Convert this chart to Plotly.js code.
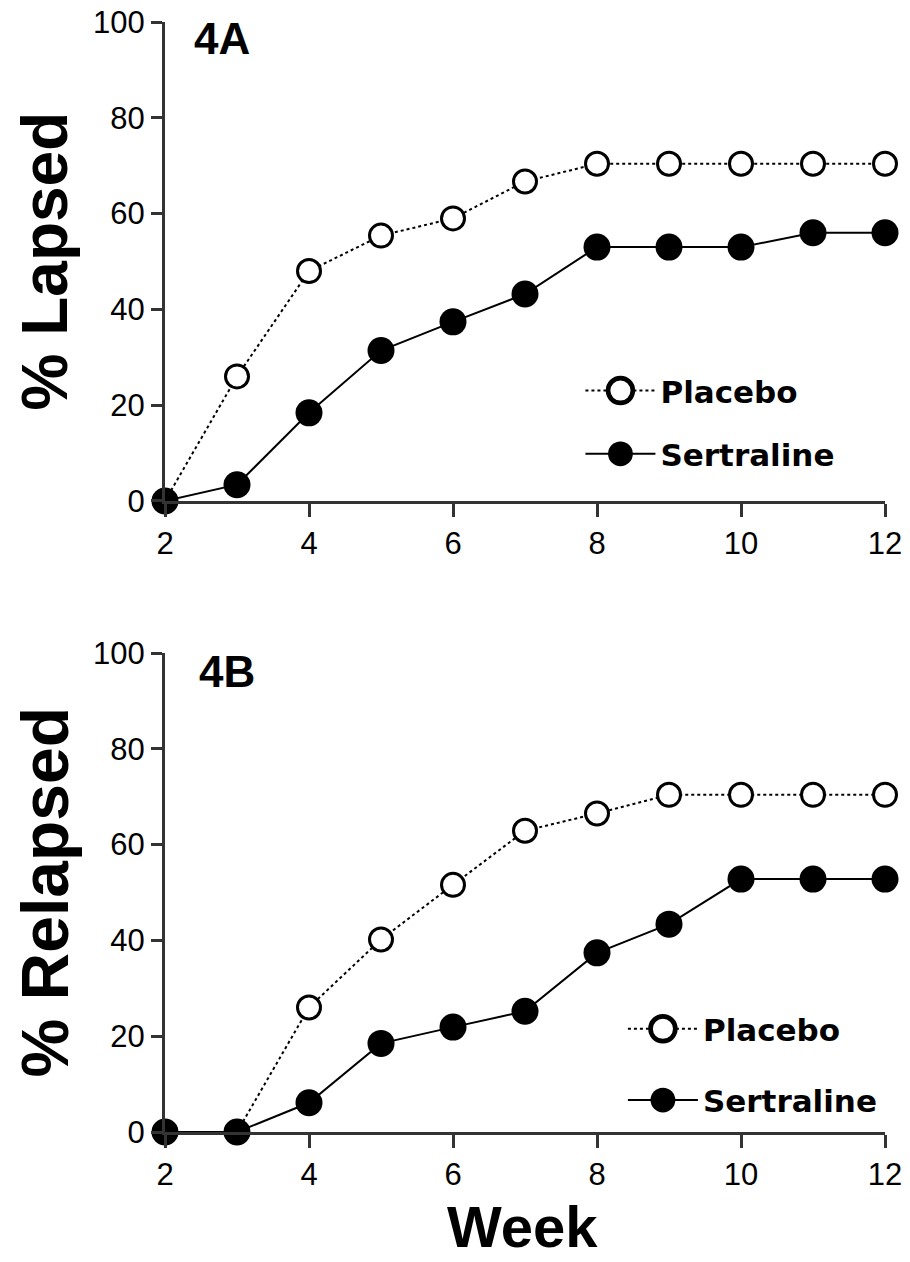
<!DOCTYPE html>
<html>
<head>
<meta charset="utf-8">
<script src="https://cdn.plot.ly/plotly-3.0.1.min.js"></script>
<style>
  html, body { margin: 0; padding: 0; background: #fff; }
  #chart { width: 910px; height: 1262px; }
</style>
</head>
<body>
<div id="chart"></div>
<script>
// ---- Data ----
const weeks = [2, 3, 4, 5, 6, 7, 8, 9, 10, 11, 12];
const xTickVals = [2, 4, 6, 8, 10, 12];
const yTickVals = [0, 20, 40, 60, 80, 100];

// Panel 4A: % Lapsed
const lapsedPlacebo    = [0, 26.0, 48.0, 55.4, 59.0, 66.7, 70.4, 70.4, 70.4, 70.4, 70.4];
const lapsedSertraline = [0, 3.4, 18.4, 31.4, 37.4, 43.2, 53.0, 53.0, 53.0, 56.0, 56.0];

// Panel 4B: % Relapsed
const relapsedPlacebo    = [0, 0, 26.0, 40.2, 51.6, 62.9, 66.5, 70.4, 70.4, 70.4, 70.4];
const relapsedSertraline = [0, 0, 6.1, 18.5, 21.9, 25.2, 37.4, 43.4, 52.8, 52.8, 52.8];

const seriesNames = ['Placebo', 'Sertraline'];

// ---- Styles ----
const tickFont = { family: 'Liberation Sans, Arial, sans-serif', size: 31, color: '#000' };
const boldFamily = 'Liberation Sans, Arial, Helvetica, sans-serif';
const axisColor = '#333';

function placeboTrace(y, xa, ya, legend, group) {
  return {
    x: weeks, y: y, xaxis: xa, yaxis: ya, legend: legend, legendgroup: group,
    name: seriesNames[0], type: 'scatter', mode: 'lines+markers', cliponaxis: false,
    line: { color: '#000', width: 2, dash: 'dot' },
    marker: { symbol: 'circle', size: 23, color: '#fff', line: { color: '#000', width: 3 } }
  };
}
function sertralineTrace(y, xa, ya, legend, group) {
  return {
    x: weeks, y: y, xaxis: xa, yaxis: ya, legend: legend, legendgroup: group,
    name: seriesNames[1], type: 'scatter', mode: 'lines+markers', cliponaxis: false,
    line: { color: '#000', width: 2, dash: 'solid' },
    marker: { symbol: 'circle', size: 27, color: '#000', line: { color: '#000', width: 0 } }
  };
}

const data = [
  placeboTrace(lapsedPlacebo, 'x', 'y', 'legend', 'a'),
  sertralineTrace(lapsedSertraline, 'x', 'y', 'legend', 'b'),
  placeboTrace(relapsedPlacebo, 'x2', 'y2', 'legend2', 'c'),
  sertralineTrace(relapsedSertraline, 'x2', 'y2', 'legend2', 'd')
];

function xAxis(anchor) {
  return {
    anchor: anchor, domain: [0, 1], range: [2, 12], tickvals: xTickVals,
    ticks: 'outside', ticklen: 13, tickwidth: 3, tickcolor: axisColor,
    showline: true, linecolor: axisColor, linewidth: 3, mirror: false,
    showgrid: false, zeroline: false, tickfont: tickFont, ticklabelstandoff: 0,
    fixedrange: true
  };
}
function yAxis(anchor, domain) {
  return {
    anchor: anchor, domain: domain, range: [0, 100], tickvals: yTickVals,
    ticks: 'outside', ticklen: 11, tickwidth: 3, tickcolor: axisColor,
    showline: true, linecolor: axisColor, linewidth: 3,
    showgrid: false, zeroline: false, tickfont: tickFont, ticklabelstandoff: 0,
    fixedrange: true
  };
}

const legendFont = { family: 'DejaVu Sans, Verdana, sans-serif', size: 31, color: '#000', weight: 'bold' };

const layout = {
  width: 910, height: 1262,
  margin: { l: 165, r: 25, t: 22, b: 130 },
  paper_bgcolor: '#fff', plot_bgcolor: '#fff',
  showlegend: true,
  xaxis: xAxis('y'),
  yaxis: yAxis('x', [0.5685, 1]),
  xaxis2: xAxis('y2'),
  yaxis2: yAxis('x2', [0, 0.4315]),
  legend: {
    x: 0.577, y: 0.692, xanchor: 'left', yanchor: 'top',
    bgcolor: 'rgba(0,0,0,0)', borderwidth: 0, font: legendFont,
    itemwidth: 70, tracegroupgap: 20, itemclick: false, itemdoubleclick: false
  },
  legend2: {
    x: 0.636, y: 0.117, xanchor: 'left', yanchor: 'top',
    bgcolor: 'rgba(0,0,0,0)', borderwidth: 0, font: legendFont,
    itemwidth: 70, tracegroupgap: 28, itemclick: false, itemdoubleclick: false
  },
  annotations: [
    { text: '4A', xref: 'x', yref: 'y', x: 2.375, y: 96.6, xanchor: 'left', yanchor: 'middle',
      showarrow: false, font: { family: boldFamily, size: 44, color: '#000', weight: 'bold' } },
    { text: '4B', xref: 'x2', yref: 'y2', x: 2.44, y: 96.2, xanchor: 'left', yanchor: 'middle',
      showarrow: false, font: { family: boldFamily, size: 44, color: '#000', weight: 'bold' } },
    { text: '% Lapsed', xref: 'paper', yref: 'y', x: 0, y: 50, xshift: -120, xanchor: 'center', yanchor: 'middle',
      textangle: -90, showarrow: false, font: { family: boldFamily, size: 64, color: '#000', weight: 'bold' } },
    { text: '% Relapsed', xref: 'paper', yref: 'y2', x: 0, y: 50, xshift: -120, xanchor: 'center', yanchor: 'middle',
      textangle: -90, showarrow: false, font: { family: boldFamily, size: 66, color: '#000', weight: 'bold' } },
    { text: 'Week', xref: 'paper', yref: 'paper', x: 0.497, y: 0, yshift: -129, xanchor: 'center', yanchor: 'bottom',
      showarrow: false, font: { family: boldFamily, size: 58, color: '#000', weight: 'bold' } }
  ]
};

function enlargeLegendMarkers(gd) {
  gd.querySelectorAll('.legendpoints path.scatterpts').forEach(function (p) {
    const base = p.getAttribute('data-base-transform');
    const t = base !== null ? base : (p.getAttribute('transform') || '');
    p.setAttribute('data-base-transform', t);
    p.setAttribute('transform', t + ' scale(1.55)');
  });
}

Plotly.newPlot('chart', data, layout, { staticPlot: true, displayModeBar: false }).then(function (gd) {
  enlargeLegendMarkers(gd);
  gd.on('plotly_afterplot', function () { enlargeLegendMarkers(gd); });
});
</script>
</body>
</html>
